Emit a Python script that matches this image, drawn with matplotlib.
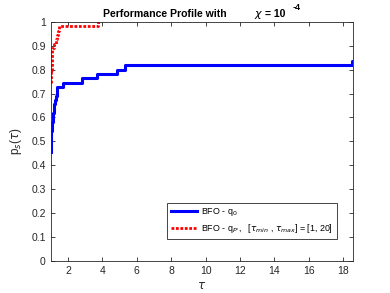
import matplotlib
matplotlib.use("Agg")
import matplotlib.pyplot as plt
import numpy as np

plt.rcParams['font.family'] = ['Liberation Sans', 'DejaVu Sans']
plt.rcParams['mathtext.fontset'] = 'dejavusans'

n_problems = 55
tau_q0 = [1.0, 1.04, 1.08, 1.14, 1.2, 1.26, 1.32, 1.38, 1.70, 2.80, 3.67, 4.87, 5.31, 18.52, 18.56]
count_q0 = [25, 30, 32, 34, 36, 37, 38, 40, 41, 42, 43, 44, 45, 46, 46]
tau_qp = [1.0, 1.03, 1.06, 1.1, 1.18, 1.28, 1.36, 1.44, 1.5, 3.76, 3.78]
count_qp = [41, 44, 48, 49, 50, 51, 52, 53, 54, 55, 55]

xticks = [2, 4, 6, 8, 10, 12, 14, 16, 18]
yticks = [0, 0.1, 0.2, 0.3, 0.4, 0.5, 0.6, 0.7, 0.8, 0.9, 1]
xlim = (1, 18.56)

fig = plt.figure(figsize=(3.9, 2.93), dpi=100)
ax = fig.add_axes([0.13, 0.11, 0.775, 0.815])

p_q0 = np.array(count_q0) / n_problems
p_qp = np.array(count_qp) / n_problems

ax.plot(tau_q0, p_q0, drawstyle='steps-post', color='#0000ff', lw=2.2,
        label='BFO - q$_{0}$')
ax.plot(tau_qp, p_qp, drawstyle='steps-post', color='#ff0000', lw=2.0, ls=(0, (1, 0.6)),
        label="BFO - q$_{P'}$,   [$\\tau_{min}$ , $\\tau_{max}$] = [1, 20]")

ax.set_xlim(*xlim)
ax.set_ylim(0, 1)
ax.set_xticks(xticks)
ax.set_yticks(yticks)
ax.set_yticklabels(['0', '0.1', '0.2', '0.3', '0.4', '0.5', '0.6', '0.7', '0.8', '0.9', '1'])
ax.tick_params(direction='in', top=True, right=True, labelsize=7.5, colors='#262626',
               length=3, width=0.6)
for s in ax.spines.values():
    s.set_color('#262626')
    s.set_linewidth(0.6)

ax.set_xlabel('$\\tau$', fontsize=8.5, color='#262626', labelpad=3)
ax.set_ylabel('p$_s$($\\tau$)', fontsize=8.5, color='#262626', labelpad=5)

H = 293.0
W = 390.0
fig.text(165 / W, 1 - 17 / H, 'Performance Profile with', fontsize=7.6, fontweight='bold',
         ha='center', va='baseline')
fig.text(254 / W, 1 - 17 / H, '$\\chi$', fontsize=8, ha='left', va='baseline')
fig.text(265 / W, 1 - 17 / H, '= 10', fontsize=7.6, fontweight='bold', ha='left', va='baseline')
fig.text(293 / W, 1 - 10 / H, '-4', fontsize=6.5, fontweight='bold', ha='left', va='baseline')

leg = ax.legend(loc='lower right', bbox_to_anchor=(0.946, 0.091), borderaxespad=0,
                fontsize=6.4, fancybox=False, edgecolor='#262626', handlelength=2.9,
                framealpha=1, borderpad=0.4, labelspacing=0.45, handletextpad=0.5)
leg.get_frame().set_linewidth(0.6)

fig.savefig('out.png', dpi=100)
